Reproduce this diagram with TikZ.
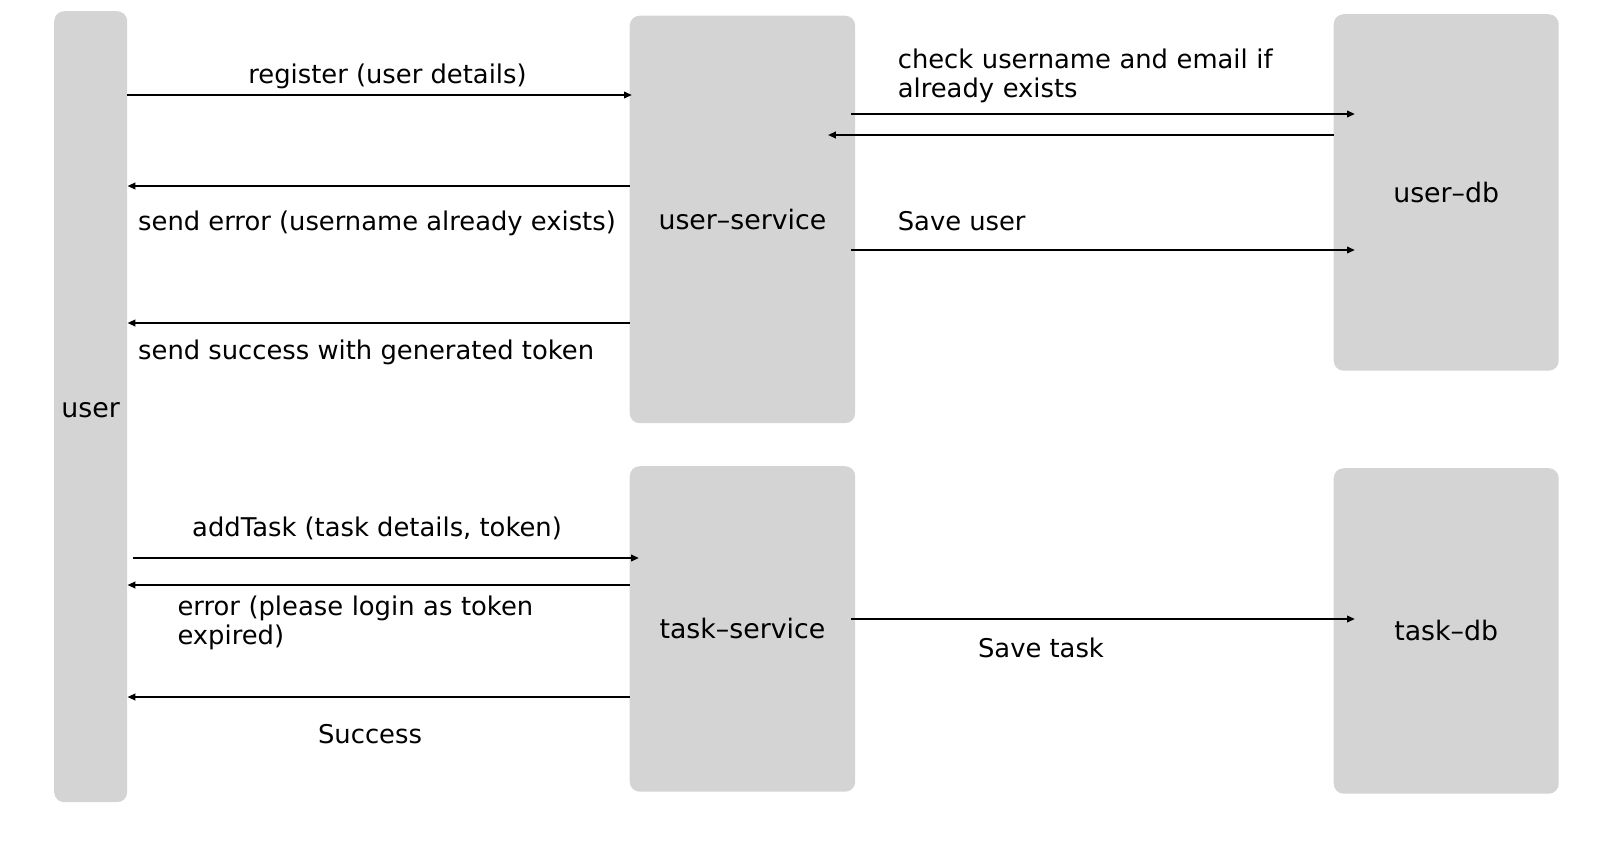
\documentclass[tikz,border=0pt]{standalone}
\usepackage{fontspec}
\setmainfont{DejaVu Sans}
\usetikzlibrary{arrows.meta}
\definecolor{boxgray}{HTML}{D4D4D4}
\tikzset{
  box/.style={fill=boxgray, draw=none, rounded corners=10pt, inner sep=0pt, anchor=north west,
    font=\fontsize{26.8pt}{29pt}\selectfont},
  msg/.style={line width=2pt, -{Triangle[length=8pt,width=6.5pt]}},
  lbl/.style={inner sep=0pt},
  lbl2/.style={inner sep=0pt, text width=480pt, align=left, anchor=base west}
}
\begin{document}
\begin{tikzpicture}[x=1pt, y=-1pt, font=\fontsize{25.8pt}{29pt}\selectfont]
\useasboundingbox (0,0) rectangle (1616,862);
% boxes
\node[box, minimum width=73pt, minimum height=791pt, text height=22pt, text depth=0pt] (user) at (54,11) {user};
\node[box, minimum width=225.5pt, minimum height=407.5pt] (usvc) at (629.5,15.5) {user--service};
\node[box, minimum width=225pt, minimum height=356.5pt] (udb) at (1333.5,14) {user--db};
\node[box, minimum width=225.5pt, minimum height=325.5pt] (tsvc) at (629.5,466) {task--service};
\node[box, minimum width=225pt, minimum height=325.5pt] (tdb) at (1333.5,468) {task--db};
% messages user <-> user-service
\draw[msg, shorten >=-2.5pt] (user.east |- 0,95) -- (usvc.west |- 0,95);
\node[lbl, anchor=base] (l1) at (387.5,83) {register (user details)};
\draw[msg] (usvc.west |- 0,186) -- (user.east |- 0,186);
\node[lbl, anchor=base west] (l2) at (138,230) {send error (username already exists)};
\draw[msg] (usvc.west |- 0,323) -- (user.east |- 0,323);
\node[lbl, anchor=base west] (l3) at (138,359) {send success with generated token};
% user-service <-> user-db
\draw[msg, shorten <=-4pt, shorten >=-21.5pt] (usvc.east |- 0,114) -- (udb.west |- 0,114);
\node[lbl2] (l4) at (897.6,68) {check username and email if\\already exists};
\draw[msg, shorten >=-27.5pt] (udb.west |- 0,135) -- (usvc.east |- 0,135);
\draw[msg, shorten <=-4pt, shorten >=-21.5pt] (usvc.east |- 0,250) -- (udb.west |- 0,250);
\node[lbl, anchor=base west] (l5) at (897.6,230) {Save user};
% user <-> task-service
\draw[msg, shorten <=6pt, shorten >=-9.5pt] (user.east |- 0,558) -- (tsvc.west |- 0,558);
\node[lbl, anchor=base] (l6) at (377,536) {addTask (task details, token)};
\draw[msg] (tsvc.west |- 0,585) -- (user.east |- 0,585);
\node[lbl2] (l7) at (177.3,615) {error (please login as token\\expired)};
\draw[msg] (tsvc.west |- 0,697) -- (user.east |- 0,697);
\node[lbl, anchor=base] (l8) at (370,743) {Success};
% task-service -> task-db
\draw[msg, shorten <=-4pt, shorten >=-21.5pt] (tsvc.east |- 0,619) -- (tdb.west |- 0,619);
\node[lbl, anchor=base] (l9) at (1041,657) {Save task};
\end{tikzpicture}
\end{document}
